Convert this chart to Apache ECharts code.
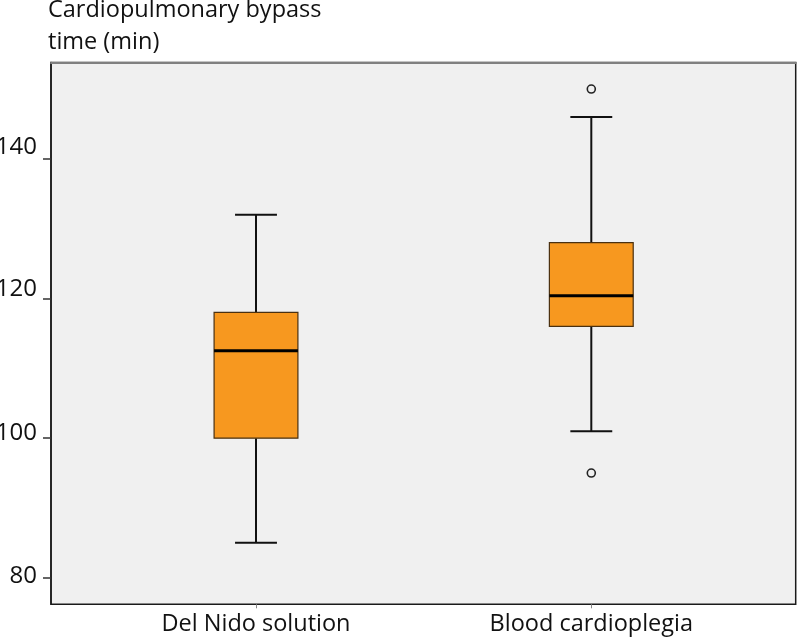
<!DOCTYPE html>
<html>
<head>
<meta charset="utf-8">
<script src="https://cdn.jsdelivr.net/npm/echarts@6/dist/echarts.min.js"></script>
<style>
  html, body { margin: 0; padding: 0; background: #ffffff; }
  #chart { width: 800px; height: 637px; }
</style>
</head>
<body>
<div id="chart"></div>
<script>
// ---- data ----
const categories = ['Del Nido solution', 'Blood cardioplegia'];
const lowerWhisker = [85, 101];
const q1Values = [100, 116];
const medianValues = [112.5, 120.4];
const q3Values = [118, 128];
const upperWhisker = [132, 146];
const outliers = [[1, 150], [1, 95]];
const yTickValues = [80, 100, 120, 140];
const yTitle = 'Cardiopulmonary bypass\ntime (min)';

// ---- chart ----
const FONT = 'Open Sans';
const yMin = 76.2, yMax = 153.8;
const labelShift = { 80: 3, 100: 9, 120: 18, 140: 23 };

const boxData = categories.map((c, i) => [i, lowerWhisker[i], q1Values[i], medianValues[i], q3Values[i], upperWhisker[i]]);

const rich = {};
yTickValues.forEach(v => {
  rich['v' + v] = { fontSize: 24, fontFamily: FONT, color: '#111', padding: [0, 0, labelShift[v] || 0, 0] };
});

const chart = echarts.init(document.getElementById('chart'), null, { renderer: 'canvas' });
chart.setOption({
  animation: false,
  backgroundColor: '#ffffff',
  title: {
    text: yTitle,
    left: 48,
    top: -6,
    padding: 0,
    textStyle: { fontFamily: FONT, fontSize: 23.5, fontWeight: 'normal', color: '#111', lineHeight: 32 }
  },
  grid: [
    { left: 88.35, right: 41.05, top: 62.5, bottom: 32.7, containLabel: false, outerBoundsMode: 'none' },
    { left: 51, right: 4.3, top: 62.5, bottom: 32.7, containLabel: false, outerBoundsMode: 'none',
      show: true, backgroundColor: '#f0f0f0', borderColor: '#1a1a1a', borderWidth: 1.5, z: 0 }
  ],
  xAxis: [
    {
      type: 'category', gridIndex: 0, data: categories,
      axisLine: { show: false },
      axisTick: { show: true, alignWithLabel: true, length: 4, lineStyle: { color: '#888', width: 1 } },
      axisLabel: { fontFamily: FONT, fontSize: 23.5, color: '#111', margin: 8 },
      splitLine: { show: false }
    },
    {
      type: 'value', gridIndex: 1, position: 'top', min: 0, max: 1,
      axisLine: { show: true, lineStyle: { color: '#808080', width: 2 } },
      axisTick: { show: false }, axisLabel: { show: false }, splitLine: { show: false }
    }
  ],
  yAxis: [
    { type: 'value', gridIndex: 0, min: yMin, max: yMax, show: false, splitLine: { show: false } },
    {
      type: 'value', gridIndex: 1, min: yMin, max: yMax,
      axisLine: { show: true, lineStyle: { color: '#1a1a1a', width: 1.5 } },
      axisTick: { show: true, length: 8, customValues: yTickValues, lineStyle: { color: '#333', width: 1.5 } },
      axisLabel: {
        customValues: yTickValues, margin: 14,
        formatter: v => '{v' + v + '|' + v + '}',
        rich: rich
      },
      splitLine: { show: false }
    }
  ],
  series: [
    {
      type: 'custom',
      xAxisIndex: 0, yAxisIndex: 0,
      data: boxData,
      z: 5,
      renderItem: function (params, api) {
        const i = api.value(0);
        const lo = api.coord([i, api.value(1)]);
        const q1 = api.coord([i, api.value(2)]);
        const med = api.coord([i, api.value(3)]);
        const q3 = api.coord([i, api.value(4)]);
        const hi = api.coord([i, api.value(5)]);
        const bw = api.size([1, 0])[0] * 0.25;
        const cx = q1[0];
        const cap = bw / 4;
        const wStyle = { stroke: '#111', lineWidth: 2 };
        return {
          type: 'group',
          children: [
            { type: 'line', shape: { x1: cx, y1: hi[1], x2: cx, y2: q3[1] }, style: wStyle },
            { type: 'line', shape: { x1: cx, y1: q1[1], x2: cx, y2: lo[1] }, style: wStyle },
            { type: 'line', shape: { x1: cx - cap, y1: hi[1], x2: cx + cap, y2: hi[1] }, style: wStyle },
            { type: 'line', shape: { x1: cx - cap, y1: lo[1], x2: cx + cap, y2: lo[1] }, style: wStyle },
            { type: 'rect', shape: { x: cx - bw / 2, y: q3[1], width: bw, height: q1[1] - q3[1] },
              style: { fill: '#f7981f', stroke: '#4a3010', lineWidth: 1.2 } },
            { type: 'line', shape: { x1: cx - bw / 2, y1: med[1], x2: cx + bw / 2, y2: med[1] },
              style: { stroke: '#000', lineWidth: 3 } }
          ]
        };
      }
    },
    {
      type: 'scatter',
      xAxisIndex: 0, yAxisIndex: 0,
      data: outliers,
      symbol: 'circle',
      symbolSize: 8,
      z: 6,
      itemStyle: { color: '#f0f0f0', borderColor: '#222', borderWidth: 1.6, opacity: 1 }
    }
  ]
});
</script>
</body>
</html>
